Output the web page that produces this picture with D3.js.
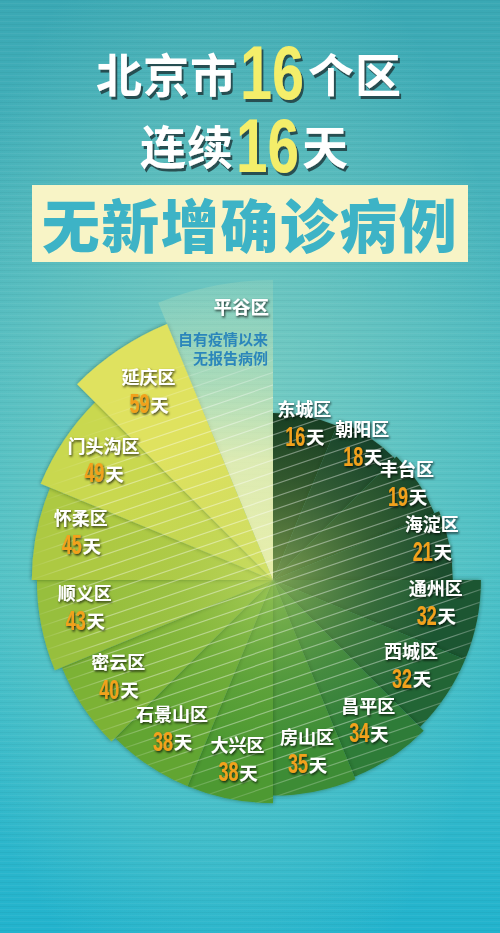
<!DOCTYPE html>
<html><head><meta charset="utf-8">
<script src="https://cdn.jsdelivr.net/npm/d3@7/dist/d3.min.js"></script>
<style>html,body{margin:0;padding:0;background:#3ab2bf;}svg{display:block;}</style>
</head><body>
<script>
// ---- data ----
const districts = ["东城区","朝阳区","丰台区","海淀区","通州区","西城区","昌平区","房山区","大兴区","石景山区","密云区","顺义区","怀柔区","门头沟区","延庆区","平谷区"];
const days = [16,18,19,21,32,32,34,35,38,38,40,43,45,49,59,null];
const colors = ["#163e24","#18432a","#1a482b","#1c4e2d","#1d5730","#216534","#2e7b37","#3e8c35","#4e9932","#62a533","#7cb236","#97bf3c","#adc942","#c9d84f","#dfe25e","#eef0b6"];
const titleLine1 = ["北京市","16","个区"];
const titleLine2 = ["连续","16","天"];
const titleBox = "无新增确诊病例";
const pingguNote = ["自有疫情以来","无报告病例"];
const dayUnit = "天";

const W = 500, H = 933, cx = 273, cy = 580;
const svg = d3.select("body").append("svg").attr("width", W).attr("height", H);
const defs = svg.append("defs");

// background
const bg = defs.append("linearGradient").attr("id","bg").attr("x1",0).attr("y1",0).attr("x2",0).attr("y2",1);
[[0,"#3aa8b4"],[0.35,"#4fbac0"],[0.6,"#4cc0c6"],[1,"#22b3cd"]].forEach(s=>bg.append("stop").attr("offset",s[0]).attr("stop-color",s[1]));
const glow = defs.append("radialGradient").attr("id","glow").attr("cx",0.45).attr("cy",0.5).attr("r",0.6);
glow.append("stop").attr("offset",0).attr("stop-color","#9fdcc4").attr("stop-opacity",0.55);
glow.append("stop").attr("offset",1).attr("stop-color","#9fdcc4").attr("stop-opacity",0);
svg.append("rect").attr("width",W).attr("height",H).attr("fill","url(#bg)");
svg.append("rect").attr("width",W).attr("height",H).attr("fill","url(#glow)");
// subtle horizontal texture
const tex = svg.append("g").attr("opacity",0.045);
d3.range(0,H,3).forEach((y,i)=>tex.append("line").attr("x1",0).attr("x2",W).attr("y1",y+0.5).attr("y2",y+0.5)
  .attr("stroke", i%2 ? "#ffffff" : "#00424a").attr("stroke-width",1));

// filters
const f1 = defs.append("filter").attr("id","tshadow").attr("x","-20%").attr("y","-20%").attr("width","140%").attr("height","160%");
f1.append("feDropShadow").attr("dx",2).attr("dy",3).attr("stdDeviation",0.6).attr("flood-color","#1d3c40").attr("flood-opacity",0.85);
const f2 = defs.append("filter").attr("id","lshadow").attr("x","-20%").attr("y","-20%").attr("width","140%").attr("height","160%");
f2.append("feDropShadow").attr("dx",1).attr("dy",1.5).attr("stdDeviation",0.8).attr("flood-color","#000").attr("flood-opacity",0.75);
const f3 = defs.append("filter").attr("id","sshadow").attr("x","-20%").attr("y","-20%").attr("width","140%").attr("height","140%");
f3.append("feDropShadow").attr("dx",0).attr("dy",0).attr("stdDeviation",2).attr("flood-color","#0b2a18").attr("flood-opacity",0.45);

const cjk = "'Noto Sans CJK SC','Noto Sans CJK JP',sans-serif";
const numFont = "'Liberation Sans','Arial',sans-serif";

// condensed number: natural text squeezed horizontally with a transform to a target width
function condensedNum(parent, x, y, str, size, fill, targetW){
  const t = parent.append("text").attr("x",0).attr("y",0).attr("dominant-baseline","central")
    .attr("font-family",numFont).attr("font-weight",700).attr("font-size",size).attr("fill",fill).text(str);
  const w = t.node().getComputedTextLength() || targetW;
  t.attr("transform",`translate(${x},${y}) scale(${targetW/w},1)`);
  return t;
}

// ---- titles ----
function titleLine(parts, xs, cyT, numW){
  const g = svg.append("g").attr("filter","url(#tshadow)");
  parts.forEach((p,i)=>{
    if(/\d/.test(p)){
      condensedNum(g, xs[i], cyT+1, p, 76, "#f4ee6a", numW);
    } else {
      g.append("text").attr("x",xs[i]).attr("y",cyT).attr("dominant-baseline","central")
       .attr("font-family",cjk).attr("font-weight",700).attr("font-size",46).attr("fill","#ffffff")
       .attr("letter-spacing",1).text(p);
    }
  });
}
titleLine(titleLine1,[96,240,308],72,64);
titleLine(titleLine2,[140,236,302],144,63);

svg.append("rect").attr("x",32).attr("y",185).attr("width",436).attr("height",77).attr("fill","#f8f4c6");
svg.append("text").attr("x",250).attr("y",223).attr("text-anchor","middle").attr("dominant-baseline","central")
  .attr("font-family",cjk).attr("font-weight",900).attr("font-size",58).attr("letter-spacing",1.5)
  .attr("fill","#3db3c6").text(titleBox);

// ---- scales ----
const angle = d3.scaleBand().domain(districts).range([0, 2*Math.PI]);
const rScale = d3.scaleLinear().domain([16,59]).range([167,277]);
const labelR = d3.scaleLinear().domain([16,32,38,59]).range([160,166,182,224]).clamp(true);
const noneR = rScale(68);

const arc = d3.arc().innerRadius(0)
  .startAngle(d=>angle(d.name)).endAngle(d=>angle(d.name)+angle.bandwidth())
  .outerRadius(d=>d.value==null ? noneR : rScale(d.value));

const data = districts.map((n,i)=>({name:n, value:days[i], color:colors[i]}));

const chart = svg.append("g").attr("transform",`translate(${cx},${cy})`);

// pinggu gradient
const pg = defs.append("linearGradient").attr("id","pg").attr("gradientUnits","userSpaceOnUse")
  .attr("x1",0).attr("y1",-noneR).attr("x2",0).attr("y2",0);
pg.append("stop").attr("offset",0).attr("stop-color","#d8ecb8").attr("stop-opacity",0.15);
pg.append("stop").attr("offset",0.35).attr("stop-color","#e2ecb0").attr("stop-opacity",0.5);
pg.append("stop").attr("offset",0.6).attr("stop-color","#eef0b0").attr("stop-opacity",0.85);
pg.append("stop").attr("offset",1).attr("stop-color","#eef0a8").attr("stop-opacity",0.95);

chart.selectAll("path.sector").data(data).join("path").attr("class","sector")
  .attr("d",arc)
  .attr("fill",d=>d.value==null ? "url(#pg)" : d.color)
  .attr("filter",d=>d.value==null ? null : "url(#sshadow)");

// center glow
const cg = defs.append("radialGradient").attr("id","cg").attr("gradientUnits","userSpaceOnUse")
  .attr("cx",0).attr("cy",0).attr("r",170);
cg.append("stop").attr("offset",0).attr("stop-color","#c8e070").attr("stop-opacity",0.55);
cg.append("stop").attr("offset",0.6).attr("stop-color","#b0d060").attr("stop-opacity",0.18);
cg.append("stop").attr("offset",1).attr("stop-color","#b0d060").attr("stop-opacity",0);
const clip = defs.append("clipPath").attr("id","chartclip");
clip.selectAll("path").data(data.filter(d=>d.value!=null)).join("path").attr("d",arc);
chart.append("circle").attr("r",170).attr("fill","url(#cg)").attr("clip-path","url(#chartclip)");

// stripes
const clip2 = defs.append("clipPath").attr("id","chartclip2");
clip2.selectAll("path").data(data).join("path").attr("d",arc);
const sm = defs.append("radialGradient").attr("id","sm").attr("gradientUnits","userSpaceOnUse").attr("cx",0).attr("cy",0).attr("r",260);
sm.append("stop").attr("offset",0).attr("stop-color","#fff").attr("stop-opacity",1);
sm.append("stop").attr("offset",0.7).attr("stop-color","#fff").attr("stop-opacity",0.9);
sm.append("stop").attr("offset",0.95).attr("stop-color","#fff").attr("stop-opacity",0);
const mask = defs.append("mask").attr("id","smask").attr("maskUnits","userSpaceOnUse")
  .attr("x",-300).attr("y",-320).attr("width",600).attr("height",640);
mask.append("rect").attr("x",-300).attr("y",-320).attr("width",600).attr("height",640).attr("fill","url(#sm)");
const stripes = chart.append("g").attr("clip-path","url(#chartclip2)").append("g").attr("mask","url(#smask)");
const slope = -0.34;
d3.range(-420, 420, 12.5).forEach(b=>{
  stripes.append("line").attr("x1",-300).attr("y1",b + slope*(-300)).attr("x2",300).attr("y2",b + slope*300)
    .attr("stroke","#ffffff").attr("stroke-opacity",0.42).attr("stroke-width",1.2);
});

// ---- labels ----
const labels = chart.append("g").attr("filter","url(#lshadow)");
data.forEach(d=>{
  if(d.value==null) return;
  const a = angle(d.name) + angle.bandwidth()/2;
  const r = labelR(d.value);
  const s = Math.sin(a);
  const lx = r*s, ly = -r*Math.cos(a) - 11*s*s;
  labels.append("text").attr("x",lx).attr("y",ly-14.5).attr("text-anchor","middle").attr("dominant-baseline","central")
    .attr("font-family",cjk).attr("font-weight",700).attr("font-size",18).attr("fill","#fff").text(d.name);
  const numW = 20, unitW = 18, x0 = lx - (numW+unitW)/2;
  condensedNum(labels, x0, ly+13.5, String(d.value), 28, "#f2a11c", numW);
  labels.append("text").attr("x",x0+numW+0.8).attr("y",ly+13.5).attr("dominant-baseline","central")
    .attr("font-family",cjk).attr("font-weight",700).attr("font-size",18.5).attr("fill","#fff").text(dayUnit);
});
// pinggu label
const pgD = data.find(d=>d.value==null);
const px = -4, py = -noneR + 26;
labels.append("text").attr("x",px).attr("y",py).attr("text-anchor","end").attr("dominant-baseline","central")
  .attr("font-family",cjk).attr("font-weight",700).attr("font-size",18.5).attr("fill","#fff").text(pgD.name);
chart.append("g").selectAll("text").data(pingguNote).join("text")
  .attr("x",px-1).attr("y",(d,i)=>py+33+i*19).attr("text-anchor","end").attr("dominant-baseline","central")
  .attr("font-family",cjk).attr("font-weight",700).attr("font-size",15).attr("fill","#2b86bb").text(d=>d);
</script>
</body></html>
